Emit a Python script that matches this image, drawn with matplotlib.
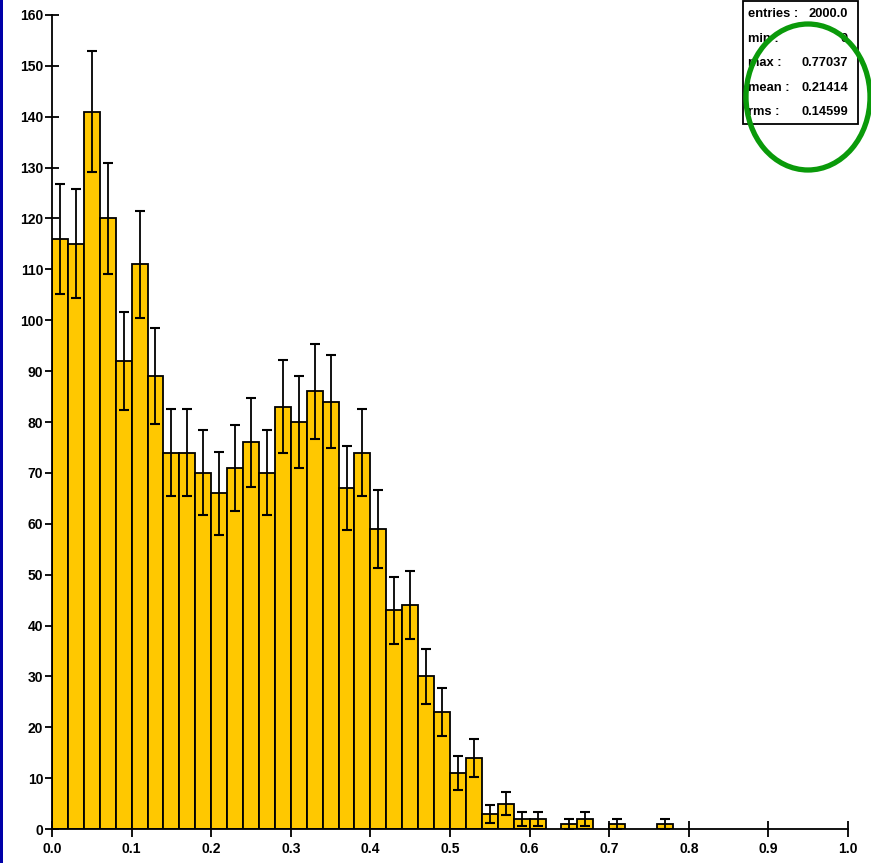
import numpy as np
import matplotlib
matplotlib.use("Agg")
import matplotlib.pyplot as plt
from matplotlib.patches import Rectangle, Ellipse
from matplotlib import font_manager as fm

# ---- data ----
bin_edges = np.round(np.arange(0.0, 1.0 + 1e-9, 0.02), 4)
counts = [116, 115, 141, 120, 92, 111, 89, 74, 74, 70,
          66, 71, 76, 70, 83, 80, 86, 84, 67, 74,
          59, 43, 44, 30, 23, 11, 14, 3, 5, 2,
          2, 0, 1, 2, 0, 1, 0, 0, 1, 0,
          0, 0, 0, 0, 0, 0, 0, 0, 0, 0]
stat_labels = ["entries :", "min :", "max :", "mean :", "rms :"]
stat_values = ["2000.0", "0", "0.77037", "0.21414", "0.14599"]
x_ticks = [0.0, 0.1, 0.2, 0.3, 0.4, 0.5, 0.6, 0.7, 0.8, 0.9, 1.0]
y_ticks = list(range(0, 161, 10))


def pick_font():
    for fam in ['Liberation Sans Narrow', 'Liberation Sans', 'Arimo']:
        try:
            fm.findfont(fm.FontProperties(family=fam), fallback_to_default=False)
            return fam
        except Exception:
            continue
    return 'DejaVu Sans'


FAM = pick_font()
FONT = [FAM, 'DejaVu Sans']
narrow = 'Narrow' in FAM
plt.rcParams['font.family'] = FONT

W, H = 871, 863
fig = plt.figure(figsize=(W / 100, H / 100), dpi=100)
fig.patch.set_facecolor('white')

ax = fig.add_axes([52 / W, 1 - 829 / H, (848 - 52) / W, (829 - 15) / H])
counts_arr = np.array(counts, dtype=float)
left = bin_edges[:-1]
width = np.diff(bin_edges)
mask = counts_arr > 0
ax.bar(left[mask], counts_arr[mask], width=width[mask], align='edge',
       color='#FFC800', edgecolor='black', linewidth=1.3, zorder=2)
centers = left + width / 2
ax.errorbar(centers[mask], counts_arr[mask], yerr=np.sqrt(counts_arr[mask]),
            fmt='none', ecolor='black', elinewidth=1.3, capsize=3.5,
            capthick=1.5, zorder=3)

ax.set_xlim(0, 1.0)
ax.set_ylim(0, 160)
ax.set_xticks(x_ticks)
ax.set_xticklabels([f"{t:.1f}" for t in x_ticks])
ax.set_yticks(y_ticks)
ax.set_yticklabels([str(t) for t in y_ticks])
for s in ['top', 'right']:
    ax.spines[s].set_visible(False)
for s in ['left', 'bottom']:
    ax.spines[s].set_linewidth(1.3)
    ax.spines[s].set_zorder(4)
tick_fs = 11 if narrow else 10
ax.tick_params(axis='both', direction='inout', length=9.5, width=1.3,
               labelsize=tick_fs, pad=1.5)
ax.tick_params(axis='x', length=12, pad=3)
for lab in ax.get_xticklabels() + ax.get_yticklabels():
    lab.set_fontweight('bold')
    lab.set_family(FONT)

# ---- stats box ----
bx0, bx1, by0, by1 = 743, 858, 124, 1
fig.patches.append(Rectangle((bx0 / W, 1 - by0 / H), (bx1 - bx0) / W,
                             (by0 - by1) / H, transform=fig.transFigure,
                             facecolor='white', edgecolor='black',
                             linewidth=1.3, zorder=5))
row_y = [14, 39, 63, 88, 112]
stat_fs = 10.5 if narrow else 9.3
for lab, val, yy in zip(stat_labels, stat_values, row_y):
    fig.text(748 / W, 1 - yy / H, lab, ha='left', va='center',
             fontsize=stat_fs, fontweight='bold', family=FONT, zorder=6)
    fig.text(848 / W, 1 - yy / H, val, ha='right', va='center',
             fontsize=stat_fs, fontweight='bold', family=FONT, zorder=6)

# ---- green annotation circle ----
fig.patches.append(Ellipse((808 / W, 1 - 97 / H), 124 / W, 146 / H,
                           transform=fig.transFigure, fill=False,
                           edgecolor='#0A9A0A', linewidth=3.8, zorder=7))

# ---- blue left border ----
fig.patches.append(Rectangle((0, 0), 3 / W, 1, transform=fig.transFigure,
                             facecolor='#0000A8', edgecolor='none', zorder=8))

fig.savefig('out.png', dpi=100)
